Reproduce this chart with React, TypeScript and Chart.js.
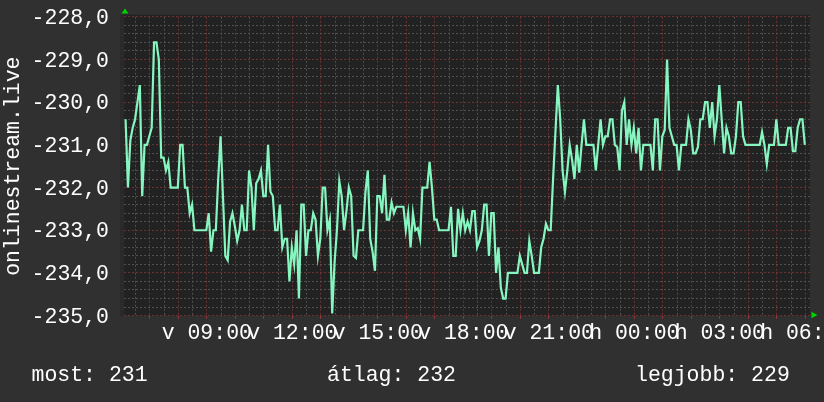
import { useEffect, useRef } from "react";
import { Chart, registerables } from "chart.js";

Chart.register(...registerables);

// ---- data ----
const START_HOUR = 6.15; // first sample (06:09, Sunday), hours
const STEP_MINUTES = 5;
const X_MIN = 6.095;
const X_MAX = 30.165;
const Y_MIN = -235;
const Y_MAX = -228;
const Y_MINOR_STEP = 0.2;
const X_MINOR_STEP = 0.5;
const X_LABEL_HOURS = [9, 12, 15, 18, 21, 24, 27, 30];
const X_TICK_LABELS = ["v 09:00", "v 12:00", "v 15:00", "v 18:00", "v 21:00", "h 00:00", "h 03:00", "h 06:00"];
const AXIS_TITLE = "onlinestream.live";
const LEGEND_LABELS = ["most:", "átlag:", "legjobb:"];
const LEGEND_VALUES = [231, 232, 229];

const VALUES = [
  -230.4, -232.0, -230.9, -230.6, -230.4, -230.0, -229.6, -232.2, -231.0, -231.0, -230.8, -230.6,
  -228.6, -228.6, -229.0, -231.3, -231.3, -231.6, -231.4, -232.0, -232.0, -232.0, -232.0, -231.0,
  -231.0, -232.0, -232.0, -232.6, -232.4, -233.0, -233.0, -233.0, -233.0, -233.0, -233.0, -232.6,
  -233.5, -233.0, -233.0, -231.8, -230.8, -232.2, -233.6, -233.7, -232.8, -232.6, -232.9, -233.25,
  -233.0, -232.4, -233.0, -233.0, -231.6, -232.0, -233.0, -231.9, -231.8, -231.6, -232.2, -232.2,
  -231.0, -232.1, -232.2, -233.0, -233.0, -232.4, -233.4, -233.2, -233.2, -234.2, -233.4, -233.8,
  -233.0, -234.6, -232.4, -232.4, -233.6, -233.0, -233.0, -232.6, -232.75, -233.6, -233.2, -232.0,
  -232.0, -233.0, -232.75, -234.95, -233.75, -233.0, -231.85, -232.2, -233.0, -232.55, -232.0, -232.2,
  -233.6, -233.65, -233.0, -233.0, -233.0, -232.1, -231.6, -233.2, -233.5, -233.95, -232.2, -232.2,
  -232.6, -231.7, -232.75, -232.75, -232.35, -232.6, -232.45, -232.45, -232.45, -232.45, -233.0, -232.6,
  -233.4, -232.6, -233.0, -232.95, -233.2, -232.0, -232.0, -232.0, -231.4, -232.0, -232.75, -232.75,
  -233.0, -233.0, -233.0, -233.0, -233.0, -232.45, -233.6, -233.6, -232.5, -233.0, -232.6, -233.0,
  -232.8, -233.0, -232.55, -232.55, -233.4, -233.25, -233.0, -232.4, -232.4, -233.6, -232.6, -232.6,
  -234.0, -233.4, -234.35, -234.6, -234.6, -234.0, -234.0, -234.0, -234.0, -234.0, -233.6, -233.8,
  -234.0, -234.0, -233.25, -233.6, -234.0, -234.0, -234.0, -233.4, -233.2, -232.85, -233.0, -233.0,
  -231.8, -230.7, -229.6, -230.4, -231.6, -232.1, -231.6, -231.0, -231.35, -231.8, -231.0, -231.65,
  -231.0, -230.4, -231.0, -231.0, -231.0, -231.0, -231.6, -231.0, -230.4, -231.0, -230.8, -230.8,
  -230.4, -230.4, -231.0, -231.05, -231.6, -230.2, -230.0, -231.0, -230.4, -231.0, -230.6, -231.2,
  -230.6, -231.6, -231.0, -231.0, -231.0, -231.0, -231.6, -230.4, -230.4, -231.6, -230.8, -230.65,
  -229.0, -230.6, -230.8, -231.0, -231.0, -231.6, -231.0, -231.0, -231.0, -230.4, -230.65, -231.2,
  -231.2, -231.05, -230.4, -230.4, -230.0, -230.0, -230.6, -230.0, -230.8, -230.4, -229.6, -230.4,
  -231.2, -230.6, -230.8, -231.2, -231.2, -230.8, -230.0, -230.0, -230.8, -231.0, -231.0, -231.0,
  -231.0, -231.0, -231.0, -231.0, -230.7, -231.0, -231.45, -231.0, -231.0, -231.0, -230.4, -231.0,
  -231.0, -231.0, -231.0, -230.6, -230.6, -231.15, -231.15, -230.6, -230.4, -230.4, -231.0,
];

// ---- styles ----
const FONT = "'Liberation Mono', 'DejaVu Sans Mono', monospace";
const FONT_SIZE = 21.5;
const BG = "#303030";
const PLOT_BG = "#222222";
const AXIS_STRIP = "#2a2a2a";
const GRID_MAJOR = "#6e3232";
const GRID_MINOR = "#505050";
const LINE = "#86f6c0";
const ARROW = "#00d400";
const TEXT = "#ffffff";

const isWhole = (v: number) => Math.abs(v - Math.round(v)) < 1e-6;

const decor = {
  id: "decor",
  beforeDraw(chart: any) {
    const { ctx, chartArea: a, width, height } = chart;
    ctx.save();
    ctx.fillStyle = BG;
    ctx.fillRect(0, 0, width, height);
    ctx.fillStyle = AXIS_STRIP;
    ctx.fillRect(a.left - 4, a.top - 2, 4, a.bottom - a.top + 3);
    ctx.fillStyle = PLOT_BG;
    ctx.fillRect(a.left, a.top - 2, a.right - a.left, a.bottom - a.top + 2);
    ctx.restore();
  },
  afterDraw(chart: any) {
    const { ctx, chartArea: a } = chart;
    ctx.save();
    ctx.fillStyle = ARROW;
    ctx.beginPath();
    ctx.moveTo(a.left + 1, a.top - 8.2);
    ctx.lineTo(a.left - 2.5, a.top - 3.4);
    ctx.lineTo(a.left + 4.5, a.top - 3.4);
    ctx.closePath();
    ctx.fill();
    ctx.beginPath();
    ctx.moveTo(a.right + 7.5, a.bottom - 0.6);
    ctx.lineTo(a.right + 1.5, a.bottom - 3.8);
    ctx.lineTo(a.right + 1.5, a.bottom + 2.6);
    ctx.closePath();
    ctx.fill();

    ctx.fillStyle = TEXT;
    ctx.font = `${FONT_SIZE}px ${FONT}`;
    ctx.textBaseline = "alphabetic";
    ctx.textAlign = "left";
    const xs = [31.5, 327, 635];
    LEGEND_LABELS.forEach((lab, i) => {
      ctx.fillText(`${lab} ${LEGEND_VALUES[i]}`, xs[i], 380.5);
    });
    ctx.restore();
  },
};

export default function App() {
  const ref = useRef<HTMLCanvasElement | null>(null);

  useEffect(() => {
    document.body.style.margin = "0";
    document.body.style.background = BG;
    if (!ref.current) return;
    const data = VALUES.map((v, i) => ({ x: START_HOUR + (i * STEP_MINUTES) / 60, y: v }));
    const font = { family: FONT, size: FONT_SIZE };
    const chart = new Chart(ref.current, {
      type: "line",
      data: {
        datasets: [
          {
            data,
            borderColor: LINE,
            borderWidth: 2.2,
            pointRadius: 0,
            tension: 0,
            fill: false,
          },
        ],
      },
      options: {
        animation: false,
        responsive: false,
        devicePixelRatio: 1,
        events: [],
        layout: { padding: { top: 16.8, right: 14, bottom: 0, left: 0 } },
        plugins: { legend: { display: false }, tooltip: { enabled: false } },
        scales: {
          x: {
            type: "linear",
            min: X_MIN,
            max: X_MAX,
            afterBuildTicks: (scale: any) => {
              const t = [];
              for (let h = Math.ceil(X_MIN / X_MINOR_STEP) * X_MINOR_STEP; h <= X_MAX + 1e-9; h += X_MINOR_STEP) {
                t.push({ value: Math.round(h * 100) / 100 });
              }
              scale.ticks = t;
            },
            afterFit: (scale: any) => {
              scale.height = 402 - 315.6;
              scale.paddingLeft = 0;
              scale.paddingRight = 0;
            },
            ticks: {
              autoSkip: false,
              maxRotation: 0,
              minRotation: 0,
              color: TEXT,
              font,
              padding: 2,
              callback: (v: any) => {
                const k = X_LABEL_HOURS.findIndex((h) => Math.abs(h - Number(v)) < 1e-6);
                return k >= 0 ? X_TICK_LABELS[k] : "";
              },
            },
            grid: {
              color: (c: any) => (c.tick && isWhole(c.tick.value) ? GRID_MAJOR : GRID_MINOR),
              lineWidth: 1,
              drawTicks: true,
              tickLength: 3,
              tickColor: (c: any) => (c.tick && isWhole(c.tick.value) ? "#a03c3c" : "rgba(0,0,0,0)"),
              tickBorderDash: [],
            },
            border: { display: false, dash: [2, 2] },
          },
          y: {
            type: "linear",
            min: Y_MIN,
            max: Y_MAX,
            afterBuildTicks: (scale: any) => {
              const t = [];
              const n = Math.round((Y_MAX - Y_MIN) / Y_MINOR_STEP);
              for (let k = 0; k <= n; k++) {
                t.push({ value: Math.round((Y_MIN + k * Y_MINOR_STEP) * 10) / 10 });
              }
              scale.ticks = t;
            },
            afterFit: (scale: any) => {
              scale.width = 124;
              scale.paddingTop = 0;
              scale.paddingBottom = 0;
            },
            ticks: {
              autoSkip: false,
              color: TEXT,
              font,
              padding: 15,
              labelOffset: 1.5,
              callback: (v: any) => (isWhole(Number(v)) ? `${Math.round(Number(v))},0` : ""),
            },
            title: {
              display: true,
              text: AXIS_TITLE,
              color: TEXT,
              font,
              padding: 0,
            },
            grid: {
              color: (c: any) => (c.tick && isWhole(c.tick.value) ? GRID_MAJOR : GRID_MINOR),
              lineWidth: 1,
              drawTicks: false,
            },
            border: { display: false, dash: [2, 2] },
          },
        },
      },
      plugins: [decor],
    } as any);
    return () => chart.destroy();
  }, []);

  return (
    <div style={{ width: 824, height: 402, background: BG }}>
      <canvas ref={ref} width={824} height={402} style={{ display: "block" }} />
    </div>
  );
}
